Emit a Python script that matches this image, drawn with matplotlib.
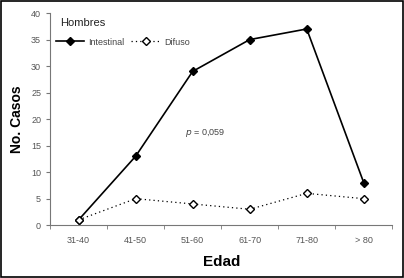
import matplotlib
matplotlib.use("Agg")
import matplotlib.pyplot as plt
from matplotlib.patches import Rectangle

plt.rcParams["font.family"] = ["Liberation Sans", "DejaVu Sans"]

edades = ["31-40", "41-50", "51-60", "61-70", "71-80", "> 80"]
intestinal = [1, 13, 29, 35, 37, 8]
difuso = [1, 5, 4, 3, 6, 5]

fig = plt.figure(figsize=(4.04, 2.78), dpi=100)
ax = fig.add_axes([0.124, 0.19, 0.847, 0.763])

x = list(range(len(edades)))
ax.plot(x, intestinal, color="black", linewidth=1.2, marker="D",
        markersize=3.6, markerfacecolor="black", label="Intestinal")
ax.plot(x, difuso, color="black", linewidth=0.9, linestyle=(0, (1, 2.5)),
        marker="D", markersize=3.8, markerfacecolor="white",
        markeredgewidth=1.0, label="Difuso")

ax.set_xlim(-0.5, len(edades) - 0.5)
ax.set_ylim(0, 40)
ax.set_yticks(range(0, 41, 5))
ax.set_xticks(x)
ax.set_xticklabels(edades)
ax.set_xticks([i + 0.5 for i in range(-1, len(edades))], minor=True)
ax.tick_params(axis="x", which="major", length=0, pad=8)
ax.tick_params(axis="x", which="minor", length=3, color="#777777", direction="out")
ax.tick_params(axis="y", length=3, color="#777777", direction="out")
ax.tick_params(labelsize=6.5, labelcolor="#555555")

for s in ["top", "right"]:
    ax.spines[s].set_visible(False)
for s in ["left", "bottom"]:
    ax.spines[s].set_color("#777777")
    ax.spines[s].set_linewidth(0.8)

ax.set_ylabel("No. Casos", fontsize=10, fontweight="bold", labelpad=5)
ax.set_xlabel("Edad", fontsize=11, fontweight="bold", labelpad=7)

ax.text(0.03, 0.94, "Hombres", transform=ax.transAxes, fontsize=8,
        color="#222222")
ax.legend(loc="upper left", bbox_to_anchor=(0.0, 0.91), ncol=2,
          frameon=False, fontsize=6.5, handlelength=3.2, columnspacing=0.8,
          handletextpad=0.4, borderaxespad=0.2)
plt.setp(ax.get_legend().get_texts(), color="#444444")

ax.text(1.86, 17, r"$p$ = 0,059", fontsize=6.5, color="#444444")

fig.patches.append(Rectangle((0.003, 0.004), 0.994, 0.992,
                             transform=fig.transFigure, fill=False,
                             edgecolor="black", linewidth=1.2))

fig.savefig("out.png", dpi=100)
